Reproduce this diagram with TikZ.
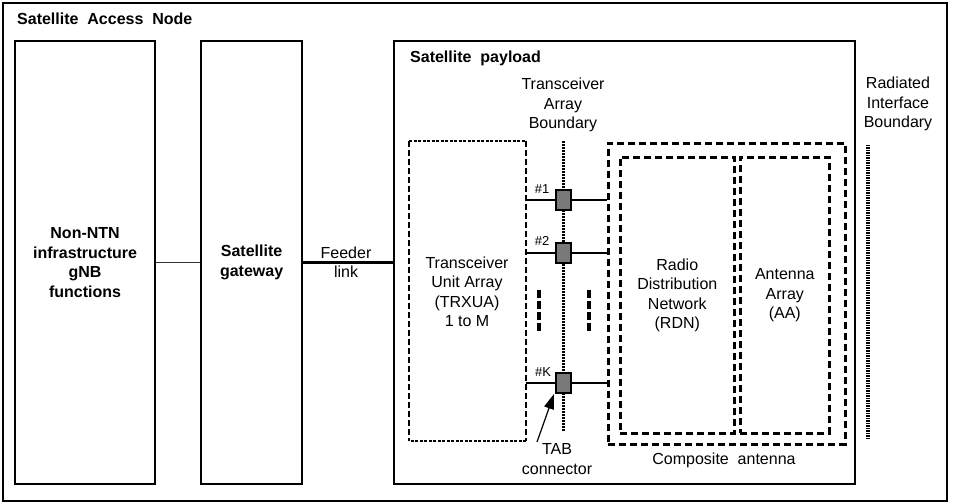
\documentclass[tikz,border=0pt]{standalone}
\usepackage{fontspec}
\setmainfont{Liberation Sans}
\usetikzlibrary{arrows.meta}
\begin{document}
\begin{tikzpicture}[x=1pt,y=-1pt,
  every node/.style={font=\fontsize{16}{19.5}\selectfont, inner sep=0pt},
  solidbox/.style={draw, line width=2.2pt, rectangle, anchor=north west},
  plain/.style={align=center},
  bold/.style={align=center, font=\fontsize{16}{19.5}\selectfont\bfseries},
  small/.style={font=\fontsize{13}{15}\selectfont},
  dsh/.style={line width=2.6pt, dash pattern=on 7pt off 4pt},
  dts/.style={line width=2pt, dash pattern=on 3pt off 1.5pt},
  tabsq/.style={draw, line width=1.5pt, fill=gray!95!black, minimum width=15pt, minimum height=20pt},
  tabline/.style={line width=2.6pt}
]
\useasboundingbox (0,0) rectangle (953,502);
\node[solidbox, minimum width=944pt, minimum height=498pt] (san) at (2,2) {};
\node[anchor=west, font=\fontsize{16}{19.5}\selectfont\bfseries] (santxt) at (17,19) {Satellite\ \ Access\ \ Node};
% left boxes
\node[solidbox, minimum width=140pt, minimum height=443pt] (ntn) at (14,40) {};
\node[bold] (ntntxt) at (ntn.center) {Non-NTN\\infrastructure\\gNB\\functions};
\node[solidbox, minimum width=101pt, minimum height=443pt] (gw) at (200,40) {};
\node[bold] (gwtxt) at (gw.center) {Satellite\\gateway};
\node[solidbox, minimum width=461pt, minimum height=443pt] (pl) at (393,40) {};
\node[anchor=west, font=\fontsize{16}{19.5}\selectfont\bfseries] (pltxt) at (410,58) {Satellite\ \ payload};
\draw[line width=1.6pt, black!80] (ntn) -- (gw);
\draw[line width=2.2pt] (gw) -- (pl);
\node[plain] (feed) at (346,262) {Feeder\\link};
% TRXUA box
\coordinate (trxnw) at (409,141);
\coordinate (trxse) at (526,441);
\draw[dts] (trxnw) -- (trxnw -| trxse);
\draw[dts] (trxse) -- (trxse -| trxnw);
\draw[line width=2.2pt, dash pattern=on 6pt off 3pt] (trxnw) -- (trxnw |- trxse);
\draw[line width=2.2pt, dash pattern=on 6pt off 3pt] (trxnw -| trxse) -- (trxse);
\node[plain] (trxtxt) at (467,292) {Transceiver\\Unit Array\\(TRXUA)\\1 to M};
% composite antenna
\node[draw, dsh, rectangle, anchor=north west, minimum width=237pt, minimum height=301pt] (comp) at (607,142) {};
\node[draw, dsh, rectangle, anchor=north west, minimum width=114pt, minimum height=276pt] (rdn) at (619,156) {};
\node[plain] (rdntxt) at (rdn.center) {Radio\\Distribution\\Network\\(RDN)};
\node[draw, dsh, rectangle, anchor=north west, minimum width=89pt, minimum height=276pt] (aa) at (739,156) {};
\node[plain] (aatxt) at (aa.center) {Antenna\\Array\\(AA)};
\node[plain] (comptxt) at (724,460) {Composite\ \ antenna};
% transceiver array boundary
\node[plain] (tabtxt) at (563,105) {Transceiver\\Array\\Boundary};
\coordinate (tabtop) at (563,141);
\coordinate (tabbot) at (563,431);
\draw[line width=3pt, dash pattern=on 2pt off 1pt] (tabtop) -- (tabbot);
% TAB connectors
\node[tabsq] (t1) at (563.5,200) {};
\node[tabsq] (t2) at (563.5,253) {};
\node[tabsq] (tK) at (563.5,383) {};
\draw[tabline] (t1 -| trxse) -- (t1.west);
\draw[tabline] (t1.east) -- (t1 -| comp.west);
\draw[tabline] (t2 -| trxse) -- (t2.west);
\draw[tabline] (t2.east) -- (t2 -| comp.west);
\draw[line width=2pt] (tK -| trxse) -- (tK.west);
\draw[line width=2pt] (tK.east) -- (tK -| comp.west);
\node[small] (l1) at (542,189) {\#1};
\node[small] (l2) at (542,241) {\#2};
\node[small] (lK) at (543,372) {\#K};
% ellipsis markers
\coordinate (m1t) at (539,290);
\coordinate (m1b) at (539,333);
\coordinate (m2t) at (589,290);
\coordinate (m2b) at (589,333);
\draw[line width=4pt, dash pattern=on 8pt off 3pt] (m1t) -- (m1b);
\draw[line width=4pt, dash pattern=on 8pt off 3pt] (m2t) -- (m2b);
% TAB connector label + arrow
\node[plain] (tabc) at (557,459) {TAB\\connector};
\coordinate (arrtail) at (537,442);
\draw[line width=1.2pt, -{Triangle[length=15pt,width=10pt]}] (arrtail) -- (554,394);
% radiated interface boundary
\node[plain] (ribtxt) at (898,104) {Radiated\\Interface\\Boundary};
\coordinate (ribtop) at (868,145);
\coordinate (ribbot) at (868,438);
\draw[line width=4pt, dash pattern=on 1.5pt off 1pt] (ribtop) -- (ribbot);
\end{tikzpicture}
\end{document}
